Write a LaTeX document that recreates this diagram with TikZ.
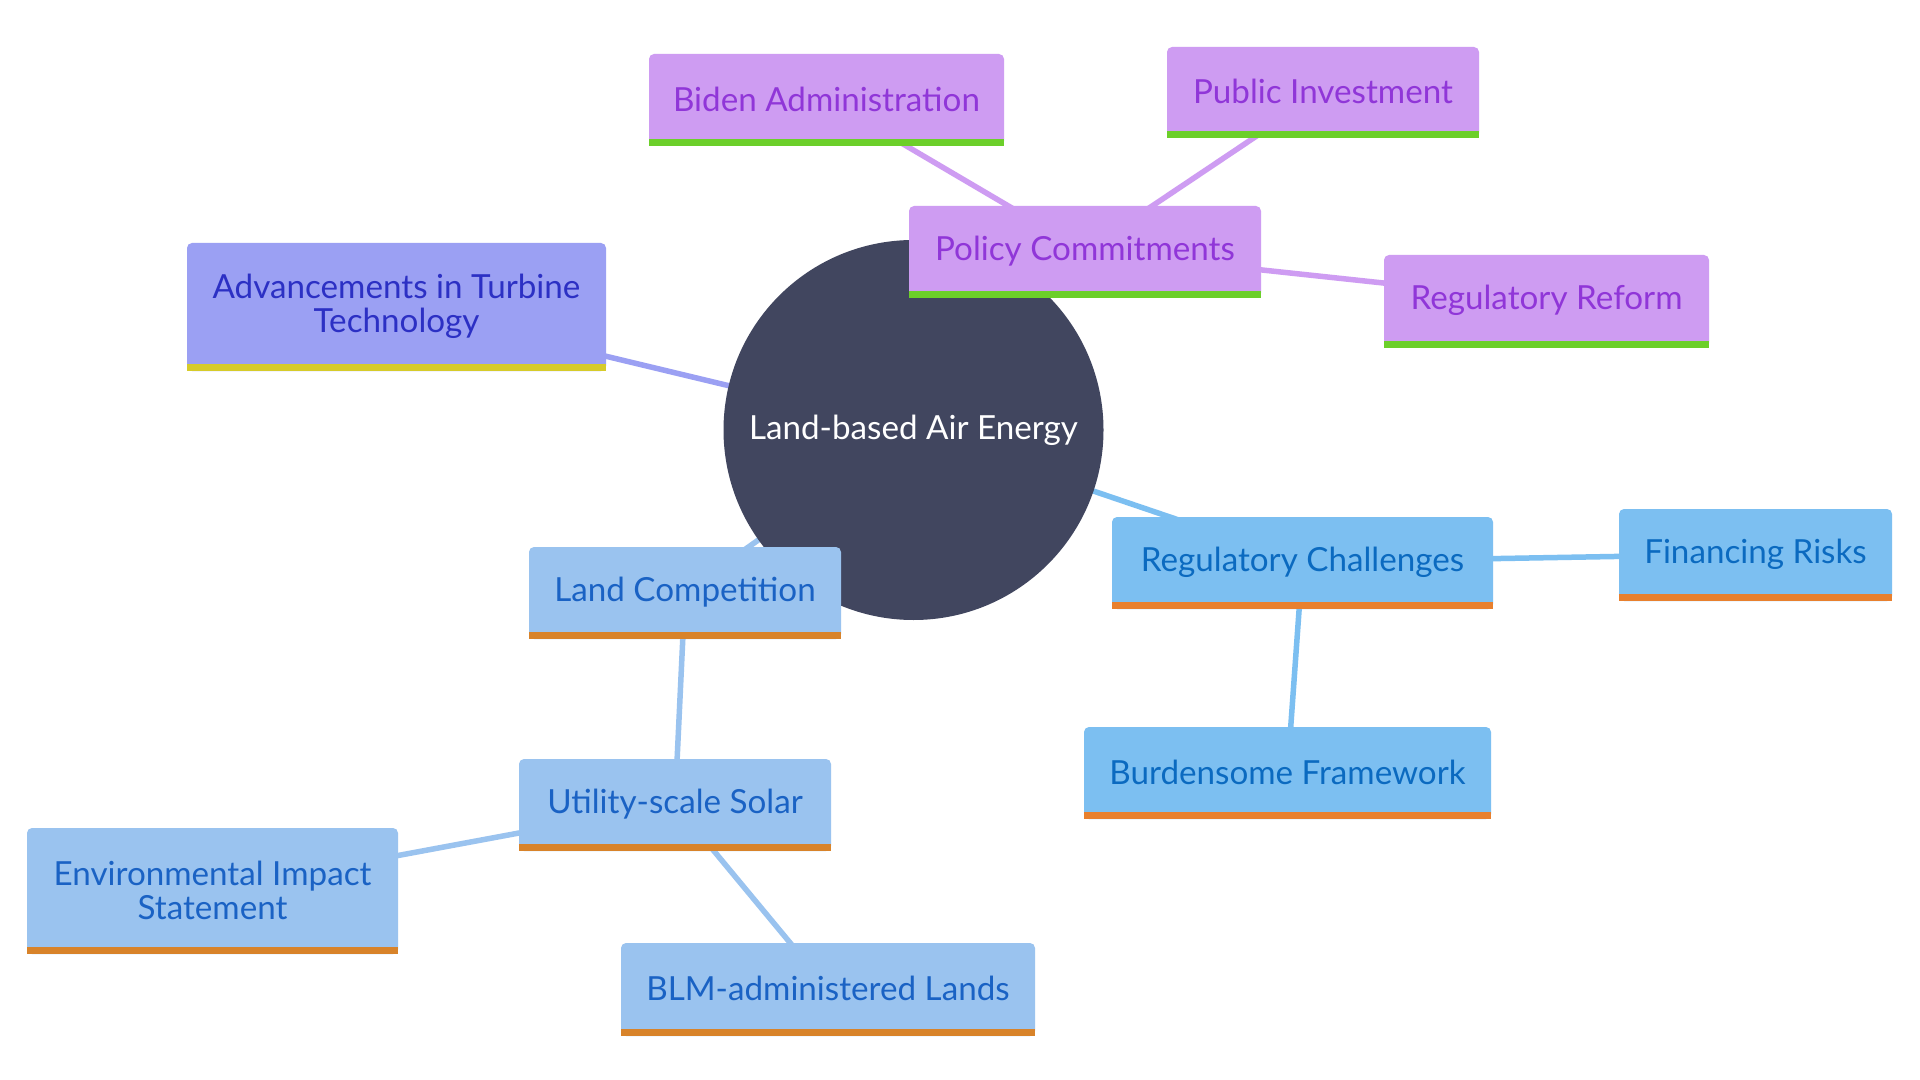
\documentclass[tikz,border=0pt]{standalone}
\usepackage{fontspec}
\setmainfont{Lato}
\pgfdeclarelayer{bg}
\pgfdeclarelayer{edges}
\pgfdeclarelayer{circ}
\pgfdeclarelayer{boxes}
\pgfsetlayers{bg,edges,circ,boxes,main}
\definecolor{rootfill}{HTML}{41465F}
\definecolor{pfillc}{HTML}{CE9CF2}
\definecolor{ptextc}{HTML}{9036D8}
\definecolor{pbarc}{HTML}{6CCF2A}
\definecolor{afillc}{HTML}{9BA0F3}
\definecolor{atextc}{HTML}{2C30C4}
\definecolor{abarc}{HTML}{D6CB2A}
\definecolor{lfillc}{HTML}{9AC3EF}
\definecolor{ltextc}{HTML}{1A62C4}
\definecolor{lbarc}{HTML}{D8832A}
\definecolor{rfillc}{HTML}{7CBFF1}
\definecolor{rtextc}{HTML}{0B6AC0}
\definecolor{rbarc}{HTML}{E8802E}
\tikzset{
  txt/.style={inner sep=0pt, align=center, font=\fontsize{16.6}{17}\selectfont},
  ptext/.style={text=ptextc}, pfill/.style={fill=pfillc}, pbar/.style={fill=pbarc},
  atext/.style={text=atextc}, afill/.style={fill=afillc}, abar/.style={fill=abarc},
  ltext/.style={text=ltextc}, lfill/.style={fill=lfillc}, lbar/.style={fill=lbarc},
  rtext/.style={text=rtextc}, rfill/.style={fill=rfillc}, rbar/.style={fill=rbarc},
  link/.style={line width=2.75pt},
}
% name, x, y (centre of box above its bar), w, h, group, text; text set 2.5px lower
\newcommand\mmnode[7]{%
  \node[txt, #6text, minimum width=#4*0.5pt, minimum height=#5*0.5pt] (#1) at (#2,#3+2.5) {#7};
  \begin{pgfonlayer}{boxes}
    \fill[#6fill, rounded corners=2.5pt] ({#2-#4/2},{#3+#5/2+7}) rectangle ({#2+#4/2},{#3-#5/2});
    \fill[#6bar] ({#2-#4/2},{#3+#5/2+7}) rectangle ({#2+#4/2},{#3+#5/2});
  \end{pgfonlayer}%
}
\begin{document}
\begin{tikzpicture}[x=0.5pt, y=-0.5pt]
\useasboundingbox (0,0) rectangle (1920,1080);
\begin{pgfonlayer}{bg}
  \fill[white] (0,0) rectangle (1920,1080);
\end{pgfonlayer}

\node[txt, text=white] (root) at (913.5,430) {Land-based Air Energy};
\begin{pgfonlayer}{circ}
  \fill[rootfill] (root.center) circle (95pt);
\end{pgfonlayer}

\mmnode{bid}{826.5}{96.5}{355}{85}{p}{Biden Administration}
\mmnode{pub}{1323}{89}{312}{84}{p}{Public Investment}
\mmnode{pol}{1085}{248.5}{352}{85}{p}{Policy Commitments}
\mmnode{ref}{1546.5}{298}{325}{86}{p}{Regulatory Reform}
\mmnode{adv}{396.5}{303.5}{419}{121}{a}{Advancements in Turbine\\Technology}
\mmnode{land}{685}{589.5}{312}{85}{l}{Land Competition}
\mmnode{util}{675}{801.5}{312}{85}{l}{Utility-scale Solar}
\mmnode{eis}{212.5}{887.5}{371}{119}{l}{Environmental Impact\\Statement}
\mmnode{blm}{828}{986}{414}{86}{l}{BLM-administered Lands}
\mmnode{chal}{1302.5}{559.5}{381}{85}{r}{Regulatory Challenges}
\mmnode{fin}{1755.5}{551.5}{273}{85}{r}{Financing Risks}
\mmnode{burd}{1287.5}{769.5}{407}{85}{r}{Burdensome Framework}

\begin{pgfonlayer}{edges}
  \draw[link, pfillc] (root.center) -- (pol.center);
  \draw[link, pfillc] (pol.center) -- (bid.center);
  \draw[link, pfillc] (pol.center) -- (pub.center);
  \draw[link, pfillc] (pol.center) -- (ref.center);
  \draw[link, afillc] (root.center) -- (adv.center);
  \draw[link, lfillc] (root.center) -- (land.center);
  \draw[link, lfillc] (land.center) -- (util.center);
  \draw[link, lfillc] (util.center) -- (eis.center);
  \draw[link, lfillc] (util.center) -- (blm.center);
  \draw[link, rfillc] (root.center) -- (chal.center);
  \draw[link, rfillc] (chal.center) -- (fin.center);
  \draw[link, rfillc] (chal.center) -- (burd.center);
\end{pgfonlayer}
\end{tikzpicture}
\end{document}
